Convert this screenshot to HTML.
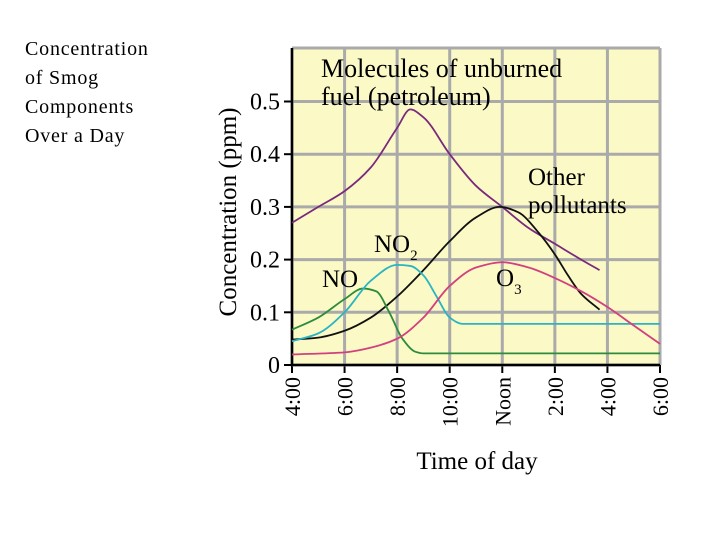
<!DOCTYPE html>
<html><head><meta charset="utf-8"><style>
body{margin:0;background:#fff;width:720px;height:540px;overflow:hidden;font-family:"Liberation Serif",serif}
#cap{position:absolute;left:25px;top:35px;font-size:20px;letter-spacing:0.8px;line-height:29px;color:#000}
</style></head><body>
<div id="cap">Concentration<br>of Smog<br>Components<br>Over a Day</div>
<svg id="c" width="720" height="540" style="position:absolute;left:0;top:0"></svg>
<script>
const tickHours=[4,6,8,10,12,14,16,18];
const tickLabels=["4:00","6:00","8:00","10:00","Noon","2:00","4:00","6:00"];
const yTicks=[0,0.1,0.2,0.3,0.4,0.5];
const yLabels=["0","0.1","0.2","0.3","0.4","0.5"];
const petroT=[4,5,6,7,8,8.5,9,10,11,12,13,14,15,15.7];
const petroV=[0.27,0.30,0.33,0.375,0.45,0.485,0.47,0.40,0.34,0.30,0.26,0.23,0.20,0.18];
const otherT=[4,5,6,7,8,9,10,11,11.9,12.6,13.4,14,14.5,15,15.7];
const otherV=[0.048,0.052,0.065,0.09,0.13,0.18,0.235,0.28,0.30,0.29,0.25,0.21,0.17,0.135,0.105];
const noT=[4,5,6,6.7,7.2,7.7,8.2,8.7,9,18];
const noV=[0.067,0.09,0.125,0.145,0.14,0.10,0.05,0.025,0.022,0.022];
const no2T=[4,5,6,7,8,8.5,9,9.5,10,10.5,18];
const no2V=[0.045,0.06,0.10,0.16,0.19,0.188,0.17,0.13,0.09,0.078,0.078];
const o3T=[4,6,7,8,9,10,11,12,13,14,15,16,17,18];
const o3V=[0.02,0.024,0.033,0.05,0.09,0.15,0.185,0.195,0.185,0.165,0.14,0.11,0.075,0.04];

const svg=document.getElementById('c');const NS='http://www.w3.org/2000/svg';
const X0=292,X1=660,Y0=365,YT=48;
const xs=h=>X0+(h-4)*(X1-X0)/14;
const ys=v=>Y0-v*527;
function mk(tag,a,parent){const e=document.createElementNS(NS,tag);for(const k in a)e.setAttribute(k,a[k]);(parent||svg).appendChild(e);return e;}
let e=mk('rect',{x:X0,y:YT,width:X1-X0,height:Y0-YT,fill:'#fbf9c6'});


tickHours.forEach((h,i)=>{
  let g=mk('line',{x1:xs(h),x2:xs(h),y1:YT,y2:Y0,stroke:'#aaa','stroke-width':3});
  
  
  let t=mk('line',{x1:xs(h),x2:xs(h),y1:Y0,y2:Y0+8,stroke:'#000','stroke-width':2});
  
  
  let l=mk('text',{x:0,y:0,transform:`translate(${xs(h)+8},${Y0+12}) rotate(-90)`,'text-anchor':'end','font-size':22});
  l.textContent=tickLabels[i];
  
  
});
yTicks.forEach((v,i)=>{
  let g=mk('line',{x1:X0,x2:X1,y1:ys(v),y2:ys(v),stroke:'#aaa','stroke-width':3});
  
  
});
e=mk('line',{x1:X0,x2:X1,y1:YT,y2:YT,stroke:'#aaa','stroke-width':3});


yTicks.forEach((v,i)=>{
  let t=mk('line',{x1:X0-8,x2:X0,y1:ys(v),y2:ys(v),stroke:'#000','stroke-width':2});
  
  
  let l=mk('text',{x:X0-12,y:ys(v)+8,'text-anchor':'end','font-size':24});
  l.textContent=yLabels[i];
  
  
});
e=mk('line',{x1:X1,x2:X1,y1:YT,y2:Y0,stroke:'#aaa','stroke-width':3});


e=mk('path',{d:`M${X0},${YT} V${Y0} H${X1}`,stroke:'#000','stroke-width':2.5,fill:'none'});


function path(T,V){
  const x=T.map(xs),y=V.map(ys),n=x.length,d=[],m=new Array(n);
  for(let i=0;i<n-1;i++)d.push((y[i+1]-y[i])/(x[i+1]-x[i]));
  m[0]=d[0];m[n-1]=d[n-2];
  for(let i=1;i<n-1;i++){ if(d[i-1]*d[i]<=0)m[i]=0; else {const h0=x[i]-x[i-1],h1=x[i+1]-x[i];m[i]=3*(h0+h1)/((2*h1+h0)/d[i-1]+(h1+2*h0)/d[i]);} }
  let s=`M${x[0]},${y[0]}`;
  for(let i=0;i<n-1;i++){const h=x[i+1]-x[i];
    s+=` C${x[i]+h/3},${y[i]+m[i]*h/3} ${x[i+1]-h/3},${y[i+1]-m[i+1]*h/3} ${x[i+1]},${y[i+1]}`;}
  return s;}
[[petroT,petroV,'#7a2a7c','petroleum-line'],[otherT,otherV,'#111','other-pollutants-line'],[noT,noV,'#2c8c3c','no-line'],[no2T,no2V,'#2ab4c4','no2-line'],[o3T,o3V,'#d2407e','o3-line']].forEach(s=>{
  let p=mk('path',{d:path(s[0],s[1]),stroke:s[2],'stroke-width':1.8,fill:'none'});
  
  
});
function lab(x,y,txt,name,sz){let t=mk('text',{x:x,y:y,'font-size':sz||25,'font-family':'Liberation Serif, serif'});t.innerHTML=txt;
  
  }
lab(321,77,'Molecules of unburned','petroleum-label',26);
lab(321,105,'fuel (petroleum)','petroleum-label-2',26);
lab(528,185,'Other','other-label');
lab(528,213,'pollutants','other-label-2');
lab(374,252,'NO<tspan font-size="15" dy="8">2</tspan>','no2-label');
lab(322,287,'NO','no-label');
lab(496,286,'O<tspan font-size="15" dy="8">3</tspan>','o3-label');
e=mk('text',{x:0,y:0,transform:'translate(236,212) rotate(-90)','text-anchor':'middle','font-size':25});
e.textContent='Concentration (ppm)';


e=mk('text',{x:477,y:469,'text-anchor':'middle','font-size':25});
e.textContent='Time of day';


</script>
</body></html>
